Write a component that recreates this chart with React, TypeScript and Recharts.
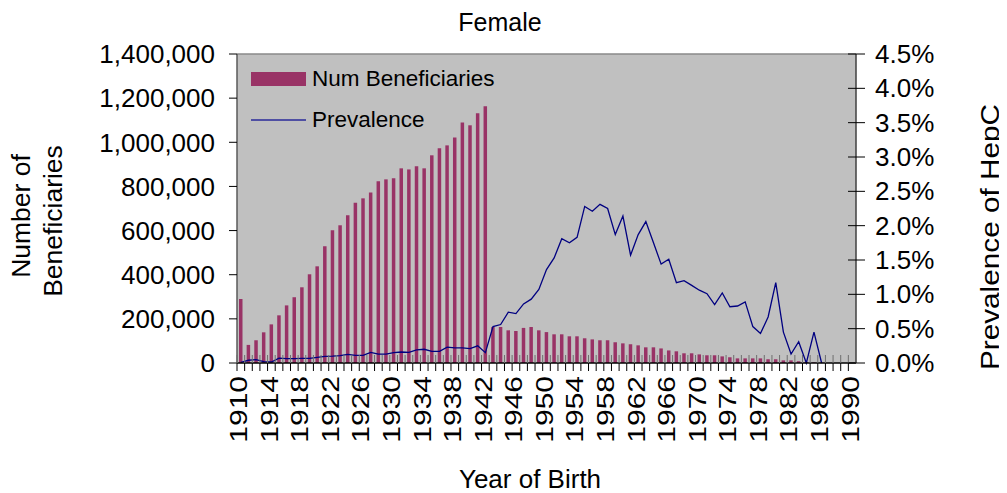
import React from 'react';
import { ComposedChart, Bar, Line, XAxis, YAxis, CartesianGrid, ReferenceLine } from 'recharts';

const FONT = '"Liberation Sans", Arial, Helvetica, sans-serif';

const years = [
  1910, 1911, 1912, 1913, 1914, 1915, 1916, 1917, 1918, 1919,
  1920, 1921, 1922, 1923, 1924, 1925, 1926, 1927, 1928, 1929,
  1930, 1931, 1932, 1933, 1934, 1935, 1936, 1937, 1938, 1939,
  1940, 1941, 1942, 1943, 1944, 1945, 1946, 1947, 1948, 1949,
  1950, 1951, 1952, 1953, 1954, 1955, 1956, 1957, 1958, 1959,
  1960, 1961, 1962, 1963, 1964, 1965, 1966, 1967, 1968, 1969,
  1970, 1971, 1972, 1973, 1974, 1975, 1976, 1977, 1978, 1979,
  1980, 1981, 1982, 1983, 1984, 1985, 1986, 1987, 1988, 1989,
  1990,
];

const beneficiaries = [
  290000, 82000, 103000, 139000, 175000, 216000, 261000, 298000, 343000, 402000,
  438000, 529000, 601000, 624000, 669000, 726000, 746000, 773000, 823000, 832000,
  837000, 882000, 877000, 891000, 882000, 941000, 973000, 986000, 1022000, 1090000,
  1077000, 1131000, 1163000, 163000, 163000, 148000, 145000, 159000, 163000, 148000,
  140000, 130000, 130000, 121000, 121000, 112000, 107000, 103000, 103000, 94000,
  89000, 85000, 80000, 71000, 71000, 66000, 57000, 53000, 44000, 44000,
  39000, 35000, 35000, 30000, 26000, 21000, 21000, 21000, 21000, 17000,
  17000, 12000, 12000, 8000, 5000, 3000, 2000, null, null, null,
  null,
];

// Prevalence of HepC, in percent
const prevalence = [
  0.01, 0.04, 0.05, 0.02, 0.015, 0.07, 0.063, 0.063, 0.068, 0.068,
  0.083, 0.097, 0.1, 0.107, 0.126, 0.11, 0.11, 0.155, 0.13, 0.13,
  0.15, 0.16, 0.155, 0.19, 0.2, 0.17, 0.17, 0.23, 0.22, 0.22,
  0.21, 0.25, 0.15, 0.53, 0.56, 0.74, 0.72, 0.86, 0.93, 1.07,
  1.36, 1.53, 1.81, 1.75, 1.83, 2.28, 2.21, 2.31, 2.25, 1.87,
  2.14, 1.57, 1.87, 2.06, 1.75, 1.44, 1.51, 1.17, 1.2, 1.13,
  1.06, 1.01, 0.85, 1.02, 0.82, 0.83, 0.89, 0.53, 0.43, 0.67,
  1.17, 0.45, 0.13, 0.31, 0.0, 0.45, 0.0, null, null, null,
  null,
];

const leftTicks = [0, 200000, 400000, 600000, 800000, 1000000, 1200000, 1400000];
const rightTicks = [0, 0.5, 1.0, 1.5, 2.0, 2.5, 3.0, 3.5, 4.0, 4.5];

const data = years.map((y, i) => ({ year: y, num: beneficiaries[i], prev: prevalence[i] }));

const PAGE_W = 999;
const PAGE_H = 485;
const CHART_W = 991;
const CHART_H = 477;
const PLOT_LEFT = 229;
const PLOT_RIGHT = 848;
const PLOT_TOP = 46;
const PLOT_BOTTOM = 355;
const BAND = (PLOT_RIGHT - PLOT_LEFT) / years.length;

const XTick = (props: any) => {
  const { x, y, index, payload } = props;
  const left = x - BAND / 2;
  const showLabel = index % 4 === 0;
  return (
    <g>
      <line x1={left} x2={left} y1={y - 8} y2={y} stroke="#6e6e6e" strokeWidth={1} />
      <line x1={left} x2={left} y1={y} y2={y + 8} stroke="#000" strokeWidth={1} />
      {showLabel && (
        <g transform={`translate(${x - 2},${y + 13}) rotate(-90)`}>
          <text
            transform="scale(1.25,1)"
            textAnchor="end"
            dominantBaseline="central"
            fontSize={24}
            fontFamily={FONT}
            fill="#000"
          >
            {payload.value}
          </text>
        </g>
      )}
    </g>
  );
};

const RTick = (props: any) => {
  const { x, y, payload } = props;
  return (
    <g>
      <line x1={x - 8} x2={x + 9} y1={y} y2={y} stroke="#000" strokeWidth={1} />
      <text x={x + 19} y={y} dy="0.35em" textAnchor="start" fontSize={26} fontFamily={FONT} fill="#000">
        {Number(payload.value).toFixed(1)}%
      </text>
    </g>
  );
};

export default function App() {
  return (
    <div style={{ position: 'relative', width: PAGE_W, height: PAGE_H, fontFamily: FONT }}>
      <ComposedChart
        width={CHART_W}
        height={CHART_H}
        data={data}
        margin={{ top: PLOT_TOP, right: CHART_W - PLOT_RIGHT - 100, left: 0, bottom: 32 }}
        barSize={3.5}
      >
        <CartesianGrid yAxisId="left" fill="#c0c0c0" stroke="none" horizontal={false} vertical={false} />
        <XAxis
          dataKey="year"
          interval={0}
          tickSize={0}
          tickMargin={0}
          tickLine={false}
          axisLine={{ stroke: '#000', strokeWidth: 1.5 }}
          height={CHART_H - 32 - PLOT_BOTTOM}
          tick={XTick}
        />
        <YAxis
          yAxisId="left"
          width={PLOT_LEFT}
          domain={[0, 1400000]}
          ticks={leftTicks}
          tickSize={8}
          tickMargin={14}
          tickFormatter={(v: number) => v.toLocaleString('en-US')}
          axisLine={{ stroke: '#5a5a5a', strokeWidth: 1.5 }}
          tickLine={{ stroke: '#000' }}
          tick={{ fontSize: 26, fill: '#000', fontFamily: FONT }}
        />
        <YAxis
          yAxisId="right"
          orientation="right"
          width={100}
          domain={[0, 4.5]}
          ticks={rightTicks}
          tickSize={0}
          tickMargin={0}
          tickLine={false}
          axisLine={{ stroke: '#404040', strokeWidth: 1.5 }}
          tick={RTick}
        />
        <ReferenceLine yAxisId="right" y={4.5} stroke="#8a8a8a" strokeWidth={1.5} />
        <Bar yAxisId="left" dataKey="num" fill="#993366" isAnimationActive={false} />
        <Line
          yAxisId="right"
          type="linear"
          dataKey="prev"
          stroke="#000080"
          strokeWidth={1.3}
          dot={false}
          activeDot={false}
          isAnimationActive={false}
        />
      </ComposedChart>
      <svg
        width={PAGE_W}
        height={PAGE_H}
        style={{ position: 'absolute', left: 0, top: 0, pointerEvents: 'none' }}
      >
        <text x={492} y={23} textAnchor="middle" fontSize={25} fontFamily={FONT} fill="#000">Female</text>
        <text x={522} y={480} textAnchor="middle" fontSize={26} fontFamily={FONT} fill="#000">Year of Birth</text>
        <text transform="translate(22,208) rotate(-90) scale(1.06,1)" textAnchor="middle" fontSize={25} fontFamily={FONT} fill="#000">Number of</text>
        <text transform="translate(54,213) rotate(-90) scale(1.06,1)" textAnchor="middle" fontSize={25} fontFamily={FONT} fill="#000">Beneficiaries</text>
        <text transform="translate(991,229) rotate(-90) scale(1.19,1)" textAnchor="middle" fontSize={25} fontFamily={FONT} fill="#000">Prevalence of HepC</text>
        <rect x={243} y={64} width={55} height={14} fill="#993366" />
        <text x={304} y={78} fontSize={22.5} fontFamily={FONT} fill="#000">Num Beneficiaries</text>
        <line x1={243} x2={298} y1={112} y2={112} stroke="#2a2a9a" strokeWidth={1.3} />
        <text x={304} y={119} fontSize={22.5} fontFamily={FONT} fill="#000">Prevalence</text>
      </svg>
    </div>
  );
}
